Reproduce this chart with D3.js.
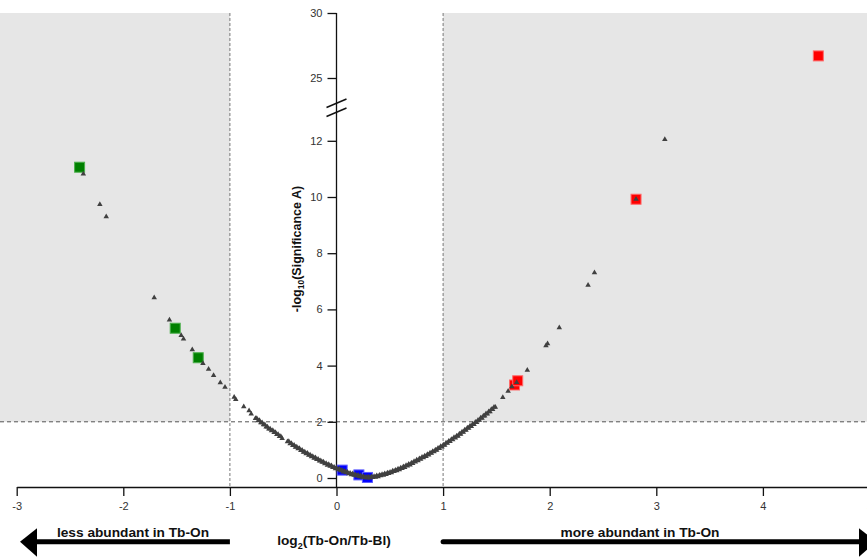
<!DOCTYPE html>
<html>
<head>
<meta charset="utf-8">
<script src="https://cdn.jsdelivr.net/npm/d3@7"></script>
<style>
  body { margin: 0; background: #fff; }
  svg { display: block; font-family: "Liberation Sans", Arial, sans-serif; }
</style>
</head>
<body>
<svg width="867" height="559"></svg>
<script>
// tick values
const xTicks = [-3, -2, -1, 0, 1, 2, 3, 4, 5];
const yTicksLow = [0, 2, 4, 6, 8, 10, 12];
const yTicksHigh = [25, 30];

// grey triangles (all proteins)
const grayX = [-2.375, -2.22, -2.16, -1.71, -1.567, -1.457, -1.435, -1.353, -1.253, -1.20, -1.153, -1.09, -1.046, -0.96, -0.945, -0.87, -0.82, -0.80,
  -0.76, -0.735, -0.71, -0.685, -0.66, -0.635, -0.61, -0.585, -0.56, -0.535, -0.51,
  -0.46, -0.435, -0.41, -0.385, -0.36, -0.335, -0.31, -0.285, -0.26, -0.235, -0.21, -0.185, -0.16, -0.135, -0.11, -0.085, -0.06, -0.035, -0.01,
  0.015, 0.04, 0.065, 0.09, 0.115, 0.14, 0.165, 0.19, 0.215, 0.24, 0.265, 0.29, 0.315, 0.34, 0.365, 0.39, 0.415, 0.44, 0.465, 0.49,
  0.515, 0.54, 0.565, 0.59, 0.615, 0.64, 0.665, 0.69, 0.715, 0.74, 0.765, 0.79, 0.815, 0.84, 0.865, 0.89, 0.915, 0.94, 0.965, 0.99,
  1.015, 1.04, 1.065, 1.09, 1.115, 1.14, 1.165, 1.19, 1.215, 1.24, 1.265, 1.29, 1.315, 1.34, 1.365, 1.39, 1.415, 1.44, 1.465, 1.49,
  1.56, 1.61, 1.645, 1.69, 1.79, 1.965, 1.98, 2.09, 2.36, 2.42, 2.81, 3.08,
  -0.7475, -0.7225, -0.6975, -0.6725, -0.6475, -0.6225, -0.5975, -0.5725, -0.5475, -0.5225,
  -0.4475, -0.4225, -0.3975, -0.3725, -0.3475, -0.3225, -0.2975, -0.2725, -0.2475, -0.2225, -0.1975, -0.1725, -0.1475, -0.1225, -0.0975, -0.0725, -0.0475, -0.0225,
  0.0025, 0.0275, 0.0525, 0.0775, 0.1025, 0.1275, 0.1525, 0.1775, 0.2025, 0.2275, 0.2525, 0.2775, 0.3025, 0.3275, 0.3525, 0.3775, 0.4025, 0.4275, 0.4525, 0.4775,
  0.5025, 0.5275, 0.5525, 0.5775, 0.6025, 0.6275, 0.6525, 0.6775, 0.7025, 0.7275, 0.7525, 0.7775, 0.8025, 0.8275, 0.8525, 0.8775, 0.9025, 0.9275, 0.9525, 0.9775,
  1.0025, 1.0275, 1.0525, 1.0775, 1.1025, 1.1275, 1.1525, 1.1775, 1.2025, 1.2275, 1.2525, 1.2775, 1.3025, 1.3275, 1.3525, 1.3775, 1.4025, 1.4275, 1.4525, 1.4775];
const grayY = [10.82, 9.74, 9.30, 6.42, 5.63, 5.07, 4.95, 4.57, 4.08, 3.87, 3.65, 3.39, 3.23, 2.88, 2.80, 2.54, 2.40, 2.28,
  2.12, 2.04, 1.97, 1.90, 1.82, 1.75, 1.68, 1.62, 1.55, 1.48, 1.41,
  1.29, 1.22, 1.16, 1.10, 1.04, 0.98, 0.92, 0.87, 0.81, 0.76, 0.71, 0.66, 0.61, 0.56, 0.51, 0.46, 0.42, 0.38, 0.33,
  0.30, 0.26, 0.22, 0.19, 0.15, 0.12, 0.10, 0.07, 0.05, 0.03, 0.01, 0.00, 0.00, 0.02, 0.03, 0.05, 0.08, 0.10, 0.13, 0.16,
  0.19, 0.23, 0.26, 0.30, 0.34, 0.38, 0.43, 0.47, 0.52, 0.57, 0.62, 0.67, 0.72, 0.77, 0.82, 0.88, 0.94, 0.99, 1.05, 1.11,
  1.17, 1.24, 1.30, 1.36, 1.43, 1.49, 1.56, 1.63, 1.70, 1.77, 1.84, 1.91, 1.98, 2.06, 2.13, 2.21, 2.28, 2.36, 2.44, 2.52,
  2.87, 3.09, 3.25, 3.40, 3.84, 4.71, 4.78, 5.35, 6.86, 7.31, 9.92, 12.05,
  2.12, 2.05, 1.97, 1.90, 1.82, 1.75, 1.69, 1.62, 1.55, 1.48,
  1.30, 1.23, 1.17, 1.11, 1.05, 0.99, 0.93, 0.88, 0.82, 0.77, 0.72, 0.67, 0.62, 0.57, 0.52, 0.48, 0.44, 0.39,
  0.35, 0.32, 0.28, 0.24, 0.21, 0.17, 0.15, 0.12, 0.10, 0.08, 0.06, 0.04, 0.04, 0.05, 0.06, 0.08, 0.10, 0.13, 0.15, 0.18,
  0.21, 0.25, 0.28, 0.32, 0.36, 0.40, 0.45, 0.49, 0.54, 0.59, 0.64, 0.69, 0.74, 0.79, 0.84, 0.89, 0.95, 1.00, 1.06, 1.12,
  1.18, 1.25, 1.31, 1.37, 1.44, 1.50, 1.57, 1.64, 1.71, 1.78, 1.85, 1.92, 1.99, 2.06, 2.14, 2.21, 2.29, 2.36, 2.44, 2.52];

// highlighted proteins
const greenX = [-2.41, -1.513, -1.297];
const greenY = [11.06, 5.33, 4.28];
const redX = [1.67, 1.70, 2.81, 4.52];
const redY = [3.31, 3.46, 9.92, 26.7];
const blueX = [0.053, 0.21, 0.29];
const blueY = [0.28, 0.11, 0.02];

const svg = d3.select("svg");
const width = +svg.attr("width");
const height = +svg.attr("height");

const x = d3.scaleLinear().domain([-3, 5]).range([16.7, 869.5]);
const yLow = d3.scaleLinear().domain([0, 12]).range([478, 140.8]);
const yHigh = d3.scaleLinear().domain([25, 30]).range([78, 13]);
const y = v => v > 20 ? yHigh(v) : yLow(v);
const fmt = d => String(d);

const topY = yHigh(30), axisY = 487;

// shaded regions
svg.append("rect").attr("x", 0).attr("y", topY)
  .attr("width", x(-1)).attr("height", yLow(2) - topY).attr("fill", "#e6e6e6");
svg.append("rect").attr("x", x(1)).attr("y", topY)
  .attr("width", width - x(1)).attr("height", yLow(2) - topY).attr("fill", "#e6e6e6");

// thresholds
svg.append("line").attr("x1", 0).attr("x2", width).attr("y1", yLow(2)).attr("y2", yLow(2))
  .attr("stroke", "#555").attr("stroke-dasharray", "4,3");
[-1, 1].forEach(v => {
  svg.append("line").attr("x1", x(v)).attr("x2", x(v)).attr("y1", topY).attr("y2", axisY)
    .attr("stroke", "#777").attr("stroke-dasharray", "3,2");
});

// x axis
const xAxis = svg.append("g").attr("transform", `translate(0,${axisY})`)
  .call(d3.axisBottom(x).tickValues(xTicks).tickFormat(fmt).tickSize(9).tickPadding(6).tickSizeOuter(0));
xAxis.select(".domain").attr("stroke", "#111").attr("stroke-width", 1.3);
xAxis.selectAll(".tick line").attr("stroke", "#111").attr("stroke-width", 1.3);
xAxis.selectAll("text").attr("font-size", 11).attr("fill", "#333")
  .attr("font-family", "Liberation Sans, Arial, sans-serif");

// y axis (broken)
const yAxisX = x(0);
svg.append("line").attr("x1", yAxisX).attr("x2", yAxisX).attr("y1", topY).attr("y2", axisY)
  .attr("stroke", "#111").attr("stroke-width", 1.3);
const yLowAxis = svg.append("g").attr("transform", `translate(${yAxisX},0)`)
  .call(d3.axisLeft(yLow).tickValues(yTicksLow).tickFormat(fmt).tickSize(9).tickPadding(5));
const yHighAxis = svg.append("g").attr("transform", `translate(${yAxisX},0)`)
  .call(d3.axisLeft(yHigh).tickValues(yTicksHigh).tickFormat(fmt).tickSize(9).tickPadding(5));
[yLowAxis, yHighAxis].forEach(g => {
  g.select(".domain").remove();
  g.selectAll(".tick line").attr("stroke", "#111").attr("stroke-width", 1.3);
  g.selectAll("text").attr("font-size", 11).attr("fill", "#333")
    .attr("font-family", "Liberation Sans, Arial, sans-serif");
});
// break marks
[0, 9].forEach(dy => {
  svg.append("line").attr("x1", yAxisX - 10).attr("x2", yAxisX + 10)
    .attr("y1", 107.5 + dy).attr("y2", 99 + dy)
    .attr("stroke", "#111").attr("stroke-width", 1.5);
});

// squares
const sq = 10;
function squares(xs, ys, color, stroke) {
  svg.append("g").selectAll("rect")
    .data(xs.map((d, i) => [d, ys[i]]))
    .join("rect")
    .attr("x", d => x(d[0]) - sq / 2)
    .attr("y", d => y(d[1]) - sq / 2)
    .attr("width", sq).attr("height", sq)
    .attr("fill", color).attr("stroke", stroke).attr("stroke-width", 1);
}
squares(greenX, greenY, "#008000", "#4caf4c");
squares(redX, redY, "#ff0000", "#ff6a6a");
squares(blueX, blueY, "#0000ff", "#5a5aff");

// triangles
svg.append("g").selectAll("path")
  .data(grayX.map((d, i) => [d, grayY[i]]))
  .join("path")
  .attr("transform", d => `translate(${x(d[0])},${y(d[1])})`)
  .attr("d", d3.symbol(d3.symbolTriangle, 13))
  .attr("fill", "#404040");

// y label
svg.append("text")
  .attr("transform", `translate(301,249) rotate(-90)`)
  .attr("text-anchor", "middle").attr("font-size", 12.5).attr("font-weight", "bold").attr("fill", "#111")
  .call(t => {
    t.append("tspan").text("-log");
    t.append("tspan").text("10").attr("font-size", 8.5).attr("dy", 3);
    t.append("tspan").text("(Significance A)").attr("dy", -3);
  });

// x label
svg.append("text")
  .attr("x", 334).attr("y", 545)
  .attr("text-anchor", "middle").attr("font-size", 13.7).attr("font-weight", "bold").attr("fill", "#111")
  .call(t => {
    t.append("tspan").text("log");
    t.append("tspan").text("2").attr("font-size", 9).attr("dy", 3.5);
    t.append("tspan").text("(Tb-On/Tb-Bl)").attr("dy", -3.5);
  });

// direction arrows
const arrowY = 541.7;
svg.append("line").attr("x1", 34).attr("x2", x(-1)).attr("y1", arrowY).attr("y2", arrowY)
  .attr("stroke", "#000").attr("stroke-width", 5);
svg.append("polygon").attr("points", `20,${arrowY} 37,${arrowY - 13.5} 37,${arrowY + 15}`).attr("fill", "#000");
svg.append("line").attr("x1", x(1)).attr("x2", 862).attr("y1", arrowY).attr("y2", arrowY)
  .attr("stroke", "#000").attr("stroke-width", 5).attr("stroke-linecap", "round");
svg.append("polygon").attr("points", `876,${arrowY} 859,${arrowY - 13.5} 859,${arrowY + 15}`).attr("fill", "#000");

svg.append("text").attr("x", 133).attr("y", 537).attr("text-anchor", "middle")
  .attr("font-size", 13.7).attr("font-weight", "bold").attr("fill", "#111")
  .text("less abundant in Tb-On");
svg.append("text").attr("x", 640).attr("y", 537).attr("text-anchor", "middle")
  .attr("font-size", 13.7).attr("font-weight", "bold").attr("fill", "#111")
  .text("more abundant in Tb-On");
</script>
</body>
</html>
